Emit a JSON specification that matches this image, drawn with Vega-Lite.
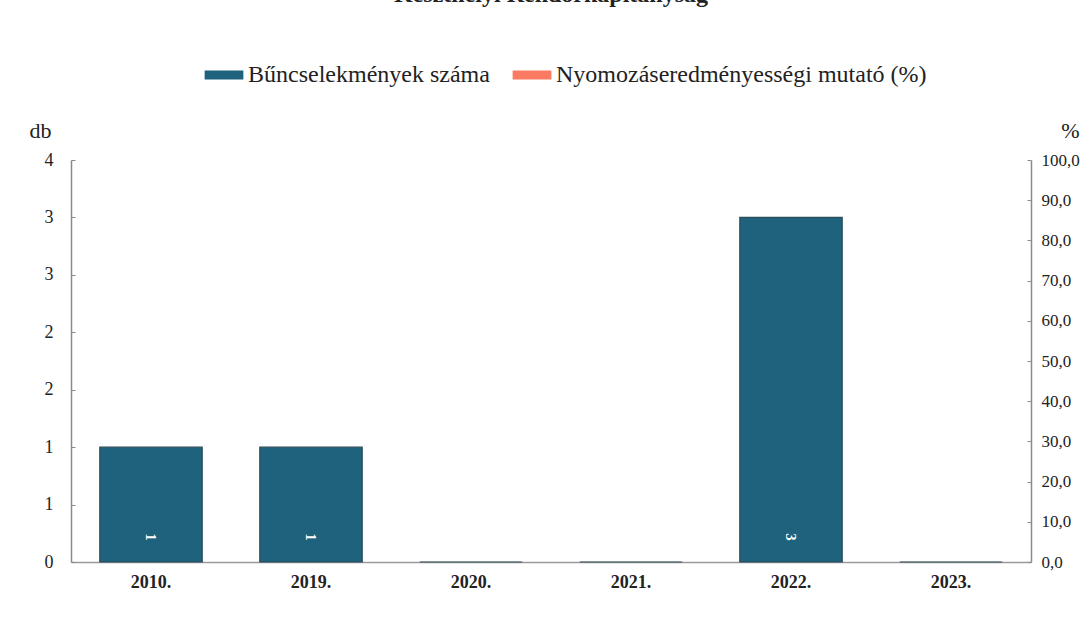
{
  "$schema": "https://vega.github.io/schema/vega-lite/v6.json",
  "autosize": "none",
  "width": 960,
  "height": 402,
  "padding": {"left": 71, "top": 160, "right": 60, "bottom": 57},
  "background": "white",
  "title": {
    "text": "Keszthelyi Rendőrkapitányság",
    "font": "Liberation Serif",
    "fontSize": 24,
    "fontWeight": "bold",
    "color": "#222222",
    "anchor": "middle",
    "frame": "group",
    "offset": 10,
    "dy": -34
  },
  "config": {
    "view": {"stroke": null},
    "font": "Liberation Serif"
  },
  "data": {
    "values": [
      {"ev": "2010.", "db": 1, "pct": null},
      {"ev": "2019.", "db": 1, "pct": null},
      {"ev": "2020.", "db": 0, "pct": null},
      {"ev": "2021.", "db": 0, "pct": null},
      {"ev": "2022.", "db": 3, "pct": null},
      {"ev": "2023.", "db": 0, "pct": null}
    ]
  },
  "encoding": {
    "x": {
      "field": "ev",
      "type": "ordinal",
      "sort": null,
      "scale": {"paddingInner": 0.36, "paddingOuter": 0.18},
      "axis": {
        "title": null,
        "labelAngle": 0,
        "labelFont": "Liberation Serif",
        "labelFontSize": 18,
        "labelFontWeight": "bold",
        "labelColor": "#222222",
        "labelPadding": 11,
        "ticks": false,
        "domainColor": "#9a9a9a",
        "domainWidth": 1.5
      }
    }
  },
  "layer": [
    {
      "layer": [
        {
          "mark": {"type": "bar", "stroke": "#2b4b57", "strokeWidth": 1.2},
          "encoding": {
            "y": {
              "field": "db",
              "type": "quantitative",
              "scale": {"domain": [0, 3.5], "nice": false},
              "axis": {
                "title": "db",
                "titleAngle": 0,
                "titleFont": "Liberation Serif",
                "titleFontSize": 22,
                "titleFontWeight": "normal",
                "titleColor": "#222222",
                "titleX": -31,
                "titleY": -18,
                "titleAlign": "center",
                "titleBaseline": "bottom",
                "values": [0, 0.5, 1, 1.5, 2, 2.5, 3, 3.5],
                "format": ".0f",
                "labelFont": "Liberation Serif",
                "labelFontSize": 18,
                "labelColor": "#222222",
                "labelPadding": 22,
                "tickSize": -4,
                "tickColor": "#8a8a8a",
                "domainColor": "#8a8a8a",
                "domainWidth": 1.5,
                "grid": false
              }
            },
            "color": {
              "datum": "Bűncselekmények száma",
              "type": "nominal",
              "scale": {
                "domain": ["Bűncselekmények száma", "Nyomozáseredményességi mutató (%)"],
                "range": ["#1e627d", "#fb7a62"]
              },
              "legend": {
                "title": null,
                "orient": "none",
                "direction": "horizontal",
                "legendX": 129,
                "legendY": -109,
                "symbolType": "stroke",
                "symbolSize": 1500,
                "symbolStrokeWidth": 9,
                "labelFont": "Liberation Serif",
                "labelFontSize": 24,
                "labelColor": "#222222",
                "labelOffset": 0,
                "columnPadding": 4,
                "labelLimit": 500
              }
            }
          }
        },
        {
          "transform": [{"filter": "datum.db > 0"}],
          "mark": {"type": "text", "color": "white", "fontSize": 15, "fontWeight": "bold", "angle": 90, "dx": -25, "dy": 0, "align": "center", "baseline": "middle"},
          "encoding": {
            "y": {"datum": 0, "type": "quantitative"},
            "text": {"field": "db", "type": "quantitative"}
          }
        }
      ]
    },
    {
      "mark": {"type": "line", "strokeWidth": 4},
      "encoding": {
        "y": {
          "field": "pct",
          "type": "quantitative",
          "scale": {"domain": [0, 100], "nice": false},
          "axis": {
            "title": "%",
            "orient": "right",
            "titleAngle": 0,
            "titleFont": "Liberation Serif",
            "titleFontSize": 22,
            "titleFontWeight": "normal",
            "titleColor": "#222222",
            "titleX": 39,
            "titleY": -18,
            "titleAlign": "center",
            "titleBaseline": "bottom",
            "values": [0, 10, 20, 30, 40, 50, 60, 70, 80, 90, 100],
            "labelExpr": "replace(format(datum.value, '.1f'), '.', ',')",
            "labelFont": "Liberation Serif",
            "labelFontSize": 17,
            "labelColor": "#222222",
            "labelPadding": 14,
            "tickSize": -4,
            "tickColor": "#8a8a8a",
            "domainColor": "#8a8a8a",
            "domainWidth": 1.5,
            "grid": false
          }
        },
        "color": {"datum": "Nyomozáseredményességi mutató (%)", "type": "nominal"}
      }
    }
  ],
  "resolve": {"scale": {"y": "independent"}}
}
